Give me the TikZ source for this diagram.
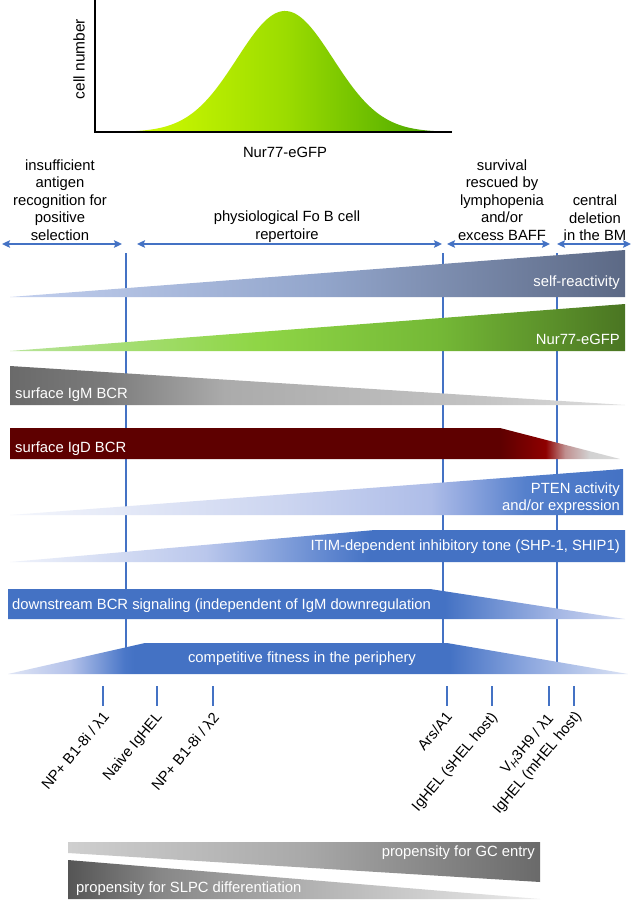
\documentclass[tikz,border=0pt]{standalone}
\usepackage{fontspec}
\setmainfont{Liberation Sans}
\usetikzlibrary{arrows.meta}
\definecolor{myblue}{HTML}{4472C4}
% curve
\definecolor{cuA}{HTML}{D8FF10}\definecolor{cuB}{HTML}{C2F200}\definecolor{cuC}{HTML}{9CDC00}\definecolor{cuD}{HTML}{5DB400}\definecolor{cuE}{HTML}{3A9200}
\pgfdeclarehorizontalshading{shCurve}{100bp}{color(0bp)=(cuA); color(25bp)=(cuA); color(36.9bp)=(cuB); color(51.6bp)=(cuC); color(67.7bp)=(cuD); color(75bp)=(cuE); color(100bp)=(cuE)}
% self-reactivity
\definecolor{srA}{HTML}{C2CFEE}\definecolor{srB}{HTML}{93A6CC}\definecolor{srC}{HTML}{5C6985}
\pgfdeclarehorizontalshading{shSelf}{100bp}{color(0bp)=(srA); color(25bp)=(srA); color(50bp)=(srB); color(75bp)=(srC); color(100bp)=(srC)}
% nur77
\definecolor{nuA}{HTML}{B8E49A}\definecolor{nuB}{HTML}{8FD646}\definecolor{nuC}{HTML}{74B836}\definecolor{nuD}{HTML}{4A7522}
\pgfdeclarehorizontalshading{shNur}{100bp}{color(0bp)=(nuA); color(25bp)=(nuA); color(45bp)=(nuB); color(60bp)=(nuC); color(75bp)=(nuD); color(100bp)=(nuD)}
% IgM
\definecolor{imA}{HTML}{6A6A6A}\definecolor{imB}{HTML}{7A7A7A}\definecolor{imC}{HTML}{ABABAB}\definecolor{imD}{HTML}{C2C2C2}\definecolor{imE}{HTML}{DEDEDE}
\pgfdeclarehorizontalshading{shIgM}{100bp}{color(0bp)=(imA); color(25bp)=(imA); color(32.5bp)=(imB); color(42.5bp)=(imC); color(62.5bp)=(imD); color(75bp)=(imE); color(100bp)=(imE)}
% IgD
\definecolor{idA}{HTML}{5E0000}\definecolor{idB}{HTML}{780000}\definecolor{idC}{HTML}{8E0000}\definecolor{idD}{HTML}{C09090}\definecolor{idE}{HTML}{D2D2D2}\definecolor{idF}{HTML}{D8D8D8}
\pgfdeclarehorizontalshading{shIgD}{100bp}{color(0bp)=(idA); color(25bp)=(idA); color(65.2bp)=(idA); color(67.2bp)=(idB); color(68.9bp)=(idC); color(70.5bp)=(idD); color(72.5bp)=(idE); color(75bp)=(idF); color(100bp)=(idF)}
% PTEN
\definecolor{ptA}{HTML}{F4F6FC}\definecolor{ptB}{HTML}{CCD5F0}\definecolor{ptC}{HTML}{AEBDE8}\definecolor{ptD}{HTML}{8AA3DD}\definecolor{ptE}{HTML}{5580CC}
\pgfdeclarehorizontalshading{shPten}{100bp}{color(0bp)=(ptA); color(25bp)=(ptA); color(47.4bp)=(ptB); color(59.3bp)=(ptC); color(62.5bp)=(ptD); color(67bp)=(ptE); color(75bp)=(myblue); color(100bp)=(myblue)}
% ITIM
\definecolor{itA}{HTML}{F0F3FB}\definecolor{itB}{HTML}{BAC7EC}\definecolor{itC}{HTML}{5F86CF}
\pgfdeclarehorizontalshading{shItim}{100bp}{color(0bp)=(itA); color(25bp)=(itA); color(40.9bp)=(itB); color(51bp)=(itC); color(54.3bp)=(myblue); color(75bp)=(myblue); color(100bp)=(myblue)}
% downstream
\definecolor{dsB}{HTML}{A6B8E5}\definecolor{dsC}{HTML}{D3DBF2}
\pgfdeclarehorizontalshading{shDown}{100bp}{color(0bp)=(myblue); color(60.4bp)=(myblue); color(69.7bp)=(dsB); color(75bp)=(dsC); color(100bp)=(dsC)}
% competitive
\definecolor{cfA}{HTML}{DFE5F5}\definecolor{cfB}{HTML}{B4C2EA}\definecolor{cfC}{HTML}{4A77C8}\definecolor{cfD}{HTML}{8EA8DF}\definecolor{cfE}{HTML}{DDE4F5}
\pgfdeclarehorizontalshading{shComp}{100bp}{color(0bp)=(cfA); color(25bp)=(cfA); color(30bp)=(cfB); color(34.4bp)=(cfC); color(35.2bp)=(myblue); color(60.6bp)=(myblue); color(67.1bp)=(cfD); color(75bp)=(cfE); color(100bp)=(cfE)}
% GC
\definecolor{gcA}{HTML}{CFCFCF}\definecolor{gcB}{HTML}{A9A9A9}\definecolor{gcC}{HTML}{6A6A6A}
\pgfdeclarehorizontalshading{shGC}{100bp}{color(0bp)=(gcA); color(25bp)=(gcA); color(50bp)=(gcB); color(75bp)=(gcC); color(100bp)=(gcC)}
% SLPC
\definecolor{slA}{HTML}{555555}\definecolor{slB}{HTML}{888888}\definecolor{slC}{HTML}{B0B0B0}\definecolor{slD}{HTML}{ECECEC}
\pgfdeclarehorizontalshading{shSLPC}{100bp}{color(0bp)=(slA); color(25bp)=(slA); color(35bp)=(slB); color(50bp)=(slC); color(75bp)=(slD); color(100bp)=(slD)}

\begin{document}
\begin{tikzpicture}[x=1pt,y=-1pt,
  txt/.style={inner sep=0pt, font=\fontsize{14.8}{17.6}\selectfont},
  hdr/.style={txt, align=center, text=black},
  bartext/.style={txt, text=white},
  lbl/.style={txt, rotate=50, anchor=east, text=black},
  vline/.style={draw=myblue, line width=2pt},
  harrow/.style={draw=myblue, line width=2pt, {Stealth[length=8pt,width=7.5pt,inset=1.5pt]}-{Stealth[length=8pt,width=7.5pt,inset=1.5pt]}},
  tickline/.style={draw=myblue, line width=2pt},
  axisline/.style={draw=black, line width=1.4pt}]
\useasboundingbox (0,0) rectangle (632,900);
\fill[white] (0,0) rectangle (632,900);

% ---- histogram
\shade[shading=shCurve] (95,132) -- plot[domain=95:452,samples=150] (\x,{132-121*exp(-0.5*((\x-285)/48)*((\x-285)/48))}) -- (452,132) -- cycle;
\coordinate (ytop) at (95,0);
\coordinate (orig) at (95,132);
\coordinate (xend) at (452,132);
\draw[axisline] (ytop) -- (orig) -- (xend);
\node[txt, rotate=90] (ylab) at (79,59) {\fontsize{15.5}{18}\selectfont cell number};
\node[txt] (xlab) at (285,152) {Nur77-eGFP};

% ---- header texts
\node[hdr] (h1) at (60,200) {insufficient\\antigen\\recognition for\\positive\\selection};
\node[hdr] (h2) at (287,226.5) {physiological Fo B cell\\repertoire};
\node[hdr] (h3) at (502,200) {survival\\rescued by\\lymphopenia\\and/or\\excess BAFF};
\node[hdr] (h4) at (595,218) {central\\deletion\\in the BM};

% ---- arrows
\coordinate (a1l) at (2,244);   \coordinate (a1r) at (122,244);
\coordinate (a2l) at (137,244); \coordinate (a2r) at (442,244);
\coordinate (a3l) at (447,244); \coordinate (a3r) at (550,244);
\coordinate (a4l) at (557,244); \coordinate (a4r) at (631,244);
\draw[harrow] (a1l) -- (a1r);
\draw[harrow] (a2l) -- (a2r);
\draw[harrow] (a3l) -- (a3r);
\draw[harrow] (a4l) -- (a4r);

% ---- vertical lines (behind bars)
\coordinate (v1t) at (126,253); \coordinate (v1b) at (126,670);
\coordinate (v2t) at (443,253); \coordinate (v2b) at (443,670);
\coordinate (v3t) at (557,253); \coordinate (v3b) at (557,670);
\draw[vline] (v1t) -- (v1b);
\draw[vline] (v2t) -- (v2b);
\draw[vline] (v3t) -- (v3b);

% ---- bars
\shade[shading=shSelf] (10,297) -- (625,250) -- (625,297) -- cycle;
\node[bartext, anchor=east] (tself) at (620,283) {self-reactivity};

\shade[shading=shNur] (10,351) -- (625,304) -- (625,351) -- cycle;
\node[bartext, anchor=east] (tnur) at (620,339) {Nur77-eGFP};

\shade[shading=shIgM] (10,366) -- (625,405) -- (10,405) -- cycle;
\node[bartext, anchor=west] (tigm) at (15,395) {surface IgM BCR};

\shade[shading=shIgD] (10,428) -- (500,428) -- (620,459) -- (10,459) -- cycle;
\node[bartext, anchor=west] (tigd) at (15,449) {surface IgD BCR};

\shade[shading=shPten] (10,515) -- (623,469) -- (623,515) -- cycle;
\node[bartext, anchor=east, align=right] (tpten) at (620,498) {PTEN activity\\and/or expression};

\shade[shading=shItim] (10,562) -- (375,530) -- (625,530) -- (625,562) -- cycle;
\node[bartext, anchor=east] (titim) at (620,547) {ITIM-dependent inhibitory tone (SHP-1, SHIP1)};

\shade[shading=shDown] (8,589) -- (430,589) -- (625,619) -- (8,619) -- cycle;
\node[bartext, anchor=west] (tdown) at (12,606) {downstream BCR signaling (independent of IgM downregulation};

\shade[shading=shComp] (8,674) -- (145,643) -- (447,643) -- (628,674) -- cycle;
\node[bartext] (tcomp) at (302,659) {competitive fitness in the periphery};

% ---- ticks
\coordinate (k1a) at (103,686); \coordinate (k1b) at (103,706);
\coordinate (k2a) at (157,686); \coordinate (k2b) at (157,706);
\coordinate (k3a) at (213,686); \coordinate (k3b) at (213,706);
\coordinate (k4a) at (447,686); \coordinate (k4b) at (447,706);
\coordinate (k5a) at (492,686); \coordinate (k5b) at (492,706);
\coordinate (k6a) at (549,686); \coordinate (k6b) at (549,706);
\coordinate (k7a) at (574,686); \coordinate (k7b) at (574,706);
\draw[tickline] (k1a) -- (k1b);
\draw[tickline] (k2a) -- (k2b);
\draw[tickline] (k3a) -- (k3b);
\draw[tickline] (k4a) -- (k4b);
\draw[tickline] (k5a) -- (k5b);
\draw[tickline] (k6a) -- (k6b);
\draw[tickline] (k7a) -- (k7b);

\node[lbl] (l1) at (106,714) {NP+ B1-8i / λ1};
\node[lbl] (l2) at (160,715) {Naive IgHEL};
\node[lbl] (l3) at (216,715) {NP+ B1-8i / λ2};
\node[lbl] (l4) at (449,714) {Ars/A1};
\node[lbl] (l5) at (495,715) {IgHEL (sHEL host)};
\node[lbl] (l6) at (551,716) {V\textsubscript{\textit{H}}3H9 / λ1};
\node[lbl] (l7) at (579,714) {IgHEL (mHEL host)};

% ---- bottom propensity bars
\shade[shading=shGC] (68,842) -- (540,842) -- (540,882) -- (68,853) -- cycle;
\node[bartext, anchor=east] (tgc) at (535,853) {propensity for GC entry};

\shade[shading=shSLPC] (68,860) -- (540,899) -- (68,899) -- cycle;
\node[bartext, anchor=west] (tslpc) at (76,889) {propensity for SLPC differentiation};
\end{tikzpicture}
\end{document}
